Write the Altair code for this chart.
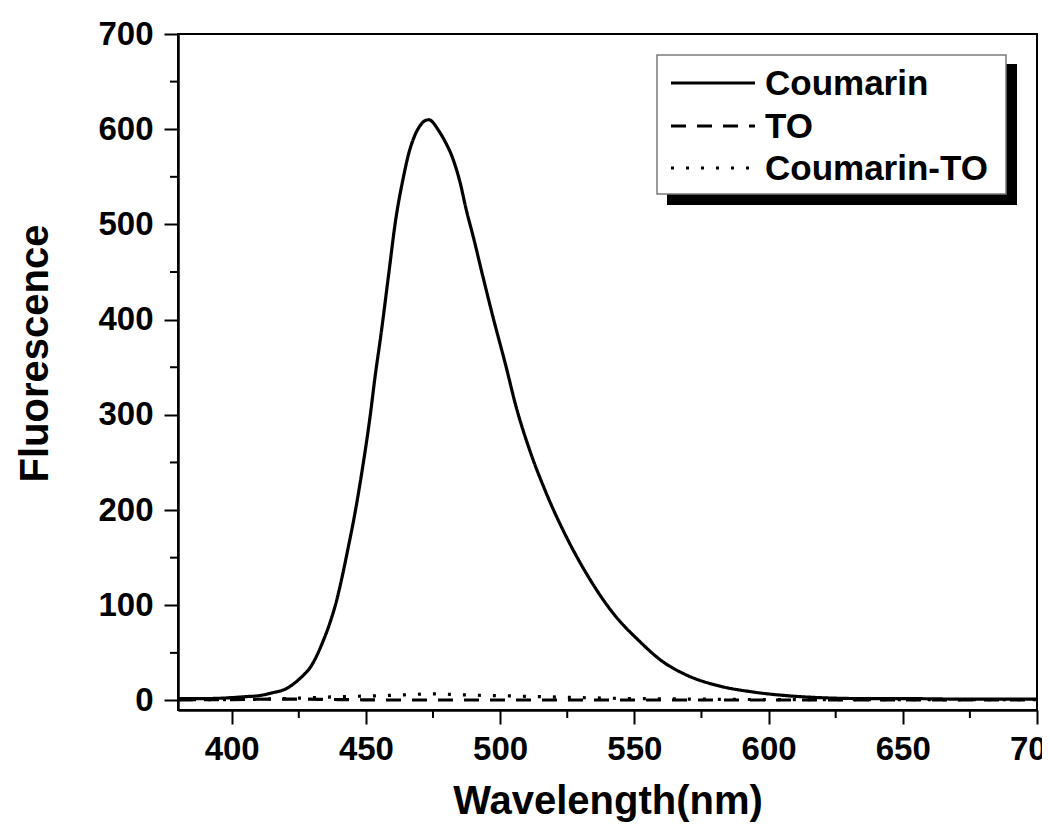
import altair as alt
import pandas as pd

# ---------------- data ----------------
series_names = ["Coumarin", "TO", "Coumarin-TO"]

wl_coumarin = [380, 390, 400, 405, 410, 415, 420, 425, 430, 434, 437, 439, 441, 443,
               446, 448.5, 451.5, 453.5, 455.5, 458.5, 461, 464, 466, 468, 470, 472,
               473.5, 475, 477, 479.5, 482, 485, 487.5, 490, 493, 497.5, 502, 506,
               511, 517, 525, 532, 542, 552, 560, 570, 582, 594, 607, 619, 635, 650,
               670, 700]
val_coumarin = [2, 2, 3, 4, 5, 8, 12, 22, 38, 62, 85, 104, 128, 155,
                198, 240, 297, 342, 382, 448, 503, 550, 575, 592, 603, 609,
                610, 607, 599, 587, 572, 545, 514, 487, 452, 401, 353, 308,
                263, 219, 170, 134, 92, 62, 42, 26, 15, 9, 5, 3, 2, 2,
                1.5, 1.5]

wl_to = [380, 400, 420, 440, 460, 480, 500, 520, 540, 560, 580, 600, 620, 640, 660, 680, 700]
val_to = [0.5, 1, 1.5, 1, 0.5, 0.5, 0.5, 0.5, 0.5, 0.5, 0.5, 0.5, 0.5, 0.5, 0.5, 0.5, 0.5]

wl_cto = [380, 400, 420, 440, 455, 465, 475, 485, 500, 515, 530, 550, 570, 600, 630, 660, 700]
val_cto = [1, 1, 2, 4, 5, 6, 7, 6, 5, 4, 3, 2, 1.5, 1, 1, 1, 1]

x_major = [400, 450, 500, 550, 600, 650, 700]
x_minor = [425, 475, 525, 575, 625, 675]
y_major = [0, 100, 200, 300, 400, 500, 600, 700]
y_minor = [50, 150, 250, 350, 450, 550, 650]

# ---------------- build table ----------------
rows = []
for name, wls, vals in [("Coumarin", wl_coumarin, val_coumarin),
                        ("TO", wl_to, val_to),
                        ("Coumarin-TO", wl_cto, val_cto)]:
    for w, v in zip(wls, vals):
        rows.append({"wl": w, "f": v, "s": name})
df = pd.DataFrame(rows)

FONT = "Liberation Sans"
W, H = 859, 676
dash_range = [[1, 0], [15, 11], [3, 12]]

x_scale = alt.Scale(domain=[380, 700], nice=False, zero=False)
y_scale = alt.Scale(domain=[-10, 700], nice=False, zero=False)

x_axis = alt.Axis(values=x_major, title="Wavelength(nm)", grid=False,
                  tickSize=14, tickWidth=2, tickColor="black",
                  domainColor="black", domainWidth=2.5,
                  labelFont=FONT, labelFontSize=33, labelFontWeight="bold",
                  labelColor="black", labelPadding=9, labelFlush=False,
                  labelOverlap=False,
                  titleFont=FONT, titleFontSize=40, titleFontWeight="bold",
                  titleColor="black", titleBaseline="alphabetic", titleY=103)
y_axis = alt.Axis(values=y_major, title="Fluorescence", grid=False,
                  tickSize=14, tickWidth=2, tickColor="black",
                  domainColor="black", domainWidth=2.5,
                  labelFont=FONT, labelFontSize=33, labelFontWeight="bold",
                  labelColor="black", labelPadding=11, labelFlush=False,
                  labelOverlap=False,
                  titleFont=FONT, titleFontSize=40, titleFontWeight="bold",
                  titleColor="black", titleBaseline="alphabetic",
                  titleX=-131, titleY=319, titleAlign="center", titleAngle=270)

lines = alt.Chart(df).mark_line(color="black", strokeWidth=3.2, clip=True,
                                interpolate="monotone").encode(
    x=alt.X("wl:Q", scale=x_scale, axis=x_axis),
    y=alt.Y("f:Q", scale=y_scale, axis=y_axis),
    strokeDash=alt.StrokeDash("s:N", scale=alt.Scale(domain=series_names, range=dash_range),
                              legend=None),
    detail="s:N",
)

# minor ticks (same fields / same axis definitions so axes merge cleanly)
y_minor_ticks = alt.Chart(pd.DataFrame({"f": y_minor})).mark_rule(
    color="black", strokeWidth=2).encode(
    y=alt.Y("f:Q", scale=y_scale, axis=y_axis),
    x=alt.value(-8), x2=alt.value(0))
x_minor_ticks = alt.Chart(pd.DataFrame({"wl": x_minor})).mark_rule(
    color="black", strokeWidth=2).encode(
    x=alt.X("wl:Q", scale=x_scale, axis=x_axis),
    y=alt.value(H), y2=alt.value(H + 8))

# legend (drawn by hand, with a shadow like the original)
one = pd.DataFrame({"a": [0]})
shadow = alt.Chart(one).mark_rect(fill="black").encode(
    x=alt.value(489), x2=alt.value(839), y=alt.value(30), y2=alt.value(171))
box = alt.Chart(one).mark_rect(fill="white", stroke="#7a7a7a", strokeWidth=1.5).encode(
    x=alt.value(479), x2=alt.value(828), y=alt.value(21), y2=alt.value(160))

legend_rows = [49, 92, 134]
legend_layers = []
for name, yy, dash in zip(series_names, legend_rows, dash_range):
    d = pd.DataFrame({"s": [name]})
    legend_layers.append(
        alt.Chart(d).mark_rule(color="black", strokeWidth=3, strokeDash=dash).encode(
            x=alt.value(493), x2=alt.value(577), y=alt.value(yy)))
    legend_layers.append(
        alt.Chart(d).mark_text(align="left", baseline="middle", font=FONT,
                               fontSize=35, fontWeight="bold", color="black").encode(
            x=alt.value(587), y=alt.value(yy + 1), text="s:N"))

chart = alt.layer(lines, y_minor_ticks, x_minor_ticks, shadow, box, *legend_layers).properties(
    width=W, height=H,
    autosize=alt.AutoSizeParams(type="none"),
    padding={"left": 170, "top": 26, "right": 5, "bottom": 113},
    background="white",
).configure_view(stroke="black", strokeWidth=2)

chart.save("out.html", embed_options={"renderer": "svg", "actions": False})
